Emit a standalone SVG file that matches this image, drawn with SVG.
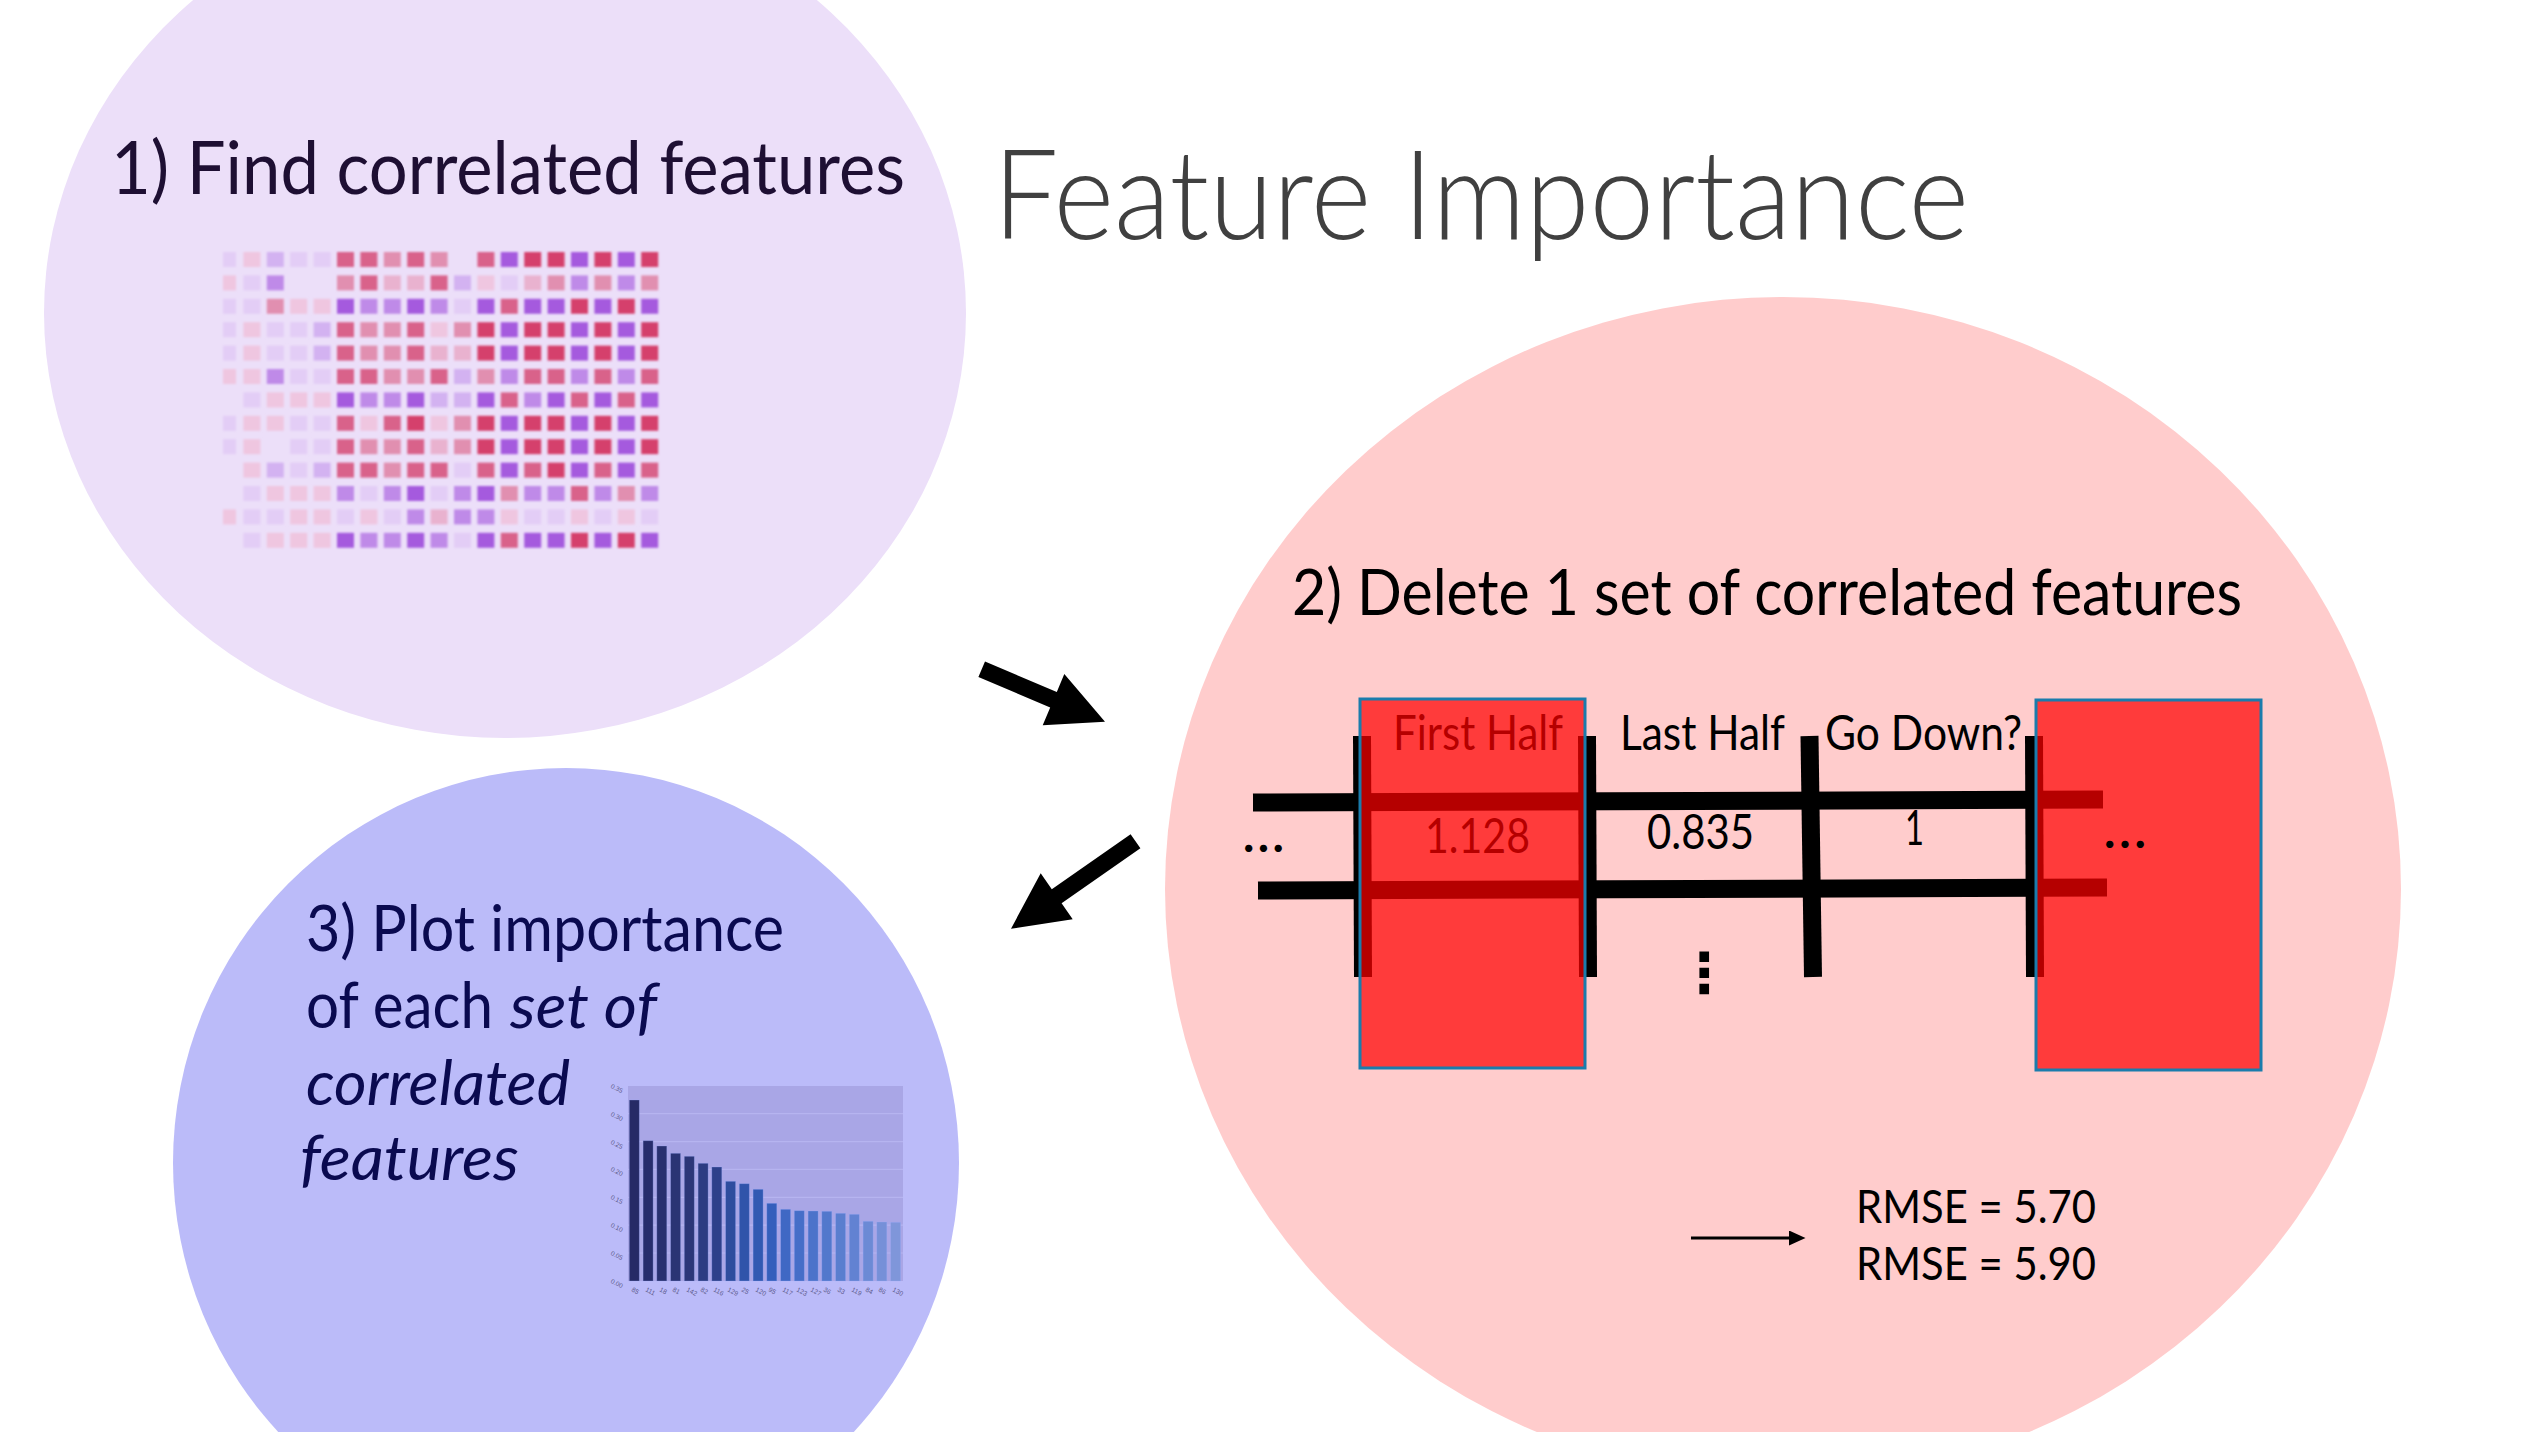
<svg xmlns="http://www.w3.org/2000/svg" width="2542" height="1432" viewBox="0 0 2542 1432">
<style>
.t{font-family:Lato,"Open Sans","Liberation Sans",sans-serif}
.a{fill:#d53f6c}.b{fill:#d9628a}.c{fill:#e18fb0}.d{fill:#e9b2cf}.e{fill:#efc6e0}
.p{fill:#a55ade}.q{fill:#bf8ae8}.r{fill:#d3b2f1}.s{fill:#e3cdf6}
.tick{font-family:"Liberation Sans",sans-serif;font-size:6.5px;fill:#5c5a8c}
.grid{stroke:#b6b4f0;stroke-width:1.2}
.tl{stroke:#000;stroke-width:18;fill:none}
.box{fill:#ff0000;fill-opacity:0.71;stroke:#1b7cac;stroke-width:3}
.cell{font-size:48px;fill:#000}
</style>
<defs>
<filter id="soft" x="-5%" y="-5%" width="110%" height="110%"><feGaussianBlur stdDeviation="1.3"/></filter>
<marker id="ah" markerWidth="5.5" markerHeight="5" refX="1" refY="2.5" orient="auto" markerUnits="strokeWidth"><path d="M0,0 L5.5,2.5 L0,5 z" fill="#000"/></marker>
</defs>
<rect width="2542" height="1432" fill="#ffffff"/>

<g id="title"><text class="t" x="993" y="239" font-size="124" font-weight="300" fill="#404040" textLength="976" lengthAdjust="spacingAndGlyphs">Feature Importance</text></g>

<g id="node-find">
<ellipse cx="505" cy="313" rx="461" ry="425" fill="#ecdff9"/>
<text class="t" x="111" y="194" font-size="73" fill="#1e0f33" textLength="794" lengthAdjust="spacingAndGlyphs">1) Find correlated features</text>
<g id="heatmap" filter="url(#soft)">
<g transform="translate(220,252)"><rect x="3" width="13" height="15" class="s"/><rect x="23.4" width="17" height="15" class="e"/><rect x="46.8" width="17" height="15" class="r"/><rect x="70.2" width="17" height="15" class="s"/><rect x="93.6" width="17" height="15" class="s"/><rect x="117" width="17" height="15" class="b"/><rect x="140.4" width="17" height="15" class="b"/><rect x="163.8" width="17" height="15" class="c"/><rect x="187.2" width="17" height="15" class="b"/><rect x="210.6" width="17" height="15" class="c"/><rect x="257.4" width="17" height="15" class="b"/><rect x="280.8" width="17" height="15" class="p"/><rect x="304.2" width="17" height="15" class="a"/><rect x="327.6" width="17" height="15" class="a"/><rect x="351" width="17" height="15" class="p"/><rect x="374.4" width="17" height="15" class="a"/><rect x="397.8" width="17" height="15" class="p"/><rect x="421.2" width="17" height="15" class="a"/></g>
<g transform="translate(220,275.4)"><rect x="3" width="13" height="15" class="e"/><rect x="23.4" width="17" height="15" class="s"/><rect x="46.8" width="17" height="15" class="q"/><rect x="117" width="17" height="15" class="c"/><rect x="140.4" width="17" height="15" class="b"/><rect x="163.8" width="17" height="15" class="d"/><rect x="187.2" width="17" height="15" class="d"/><rect x="210.6" width="17" height="15" class="b"/><rect x="234" width="17" height="15" class="r"/><rect x="257.4" width="17" height="15" class="e"/><rect x="280.8" width="17" height="15" class="s"/><rect x="304.2" width="17" height="15" class="d"/><rect x="327.6" width="17" height="15" class="c"/><rect x="351" width="17" height="15" class="q"/><rect x="374.4" width="17" height="15" class="c"/><rect x="397.8" width="17" height="15" class="q"/><rect x="421.2" width="17" height="15" class="c"/></g>
<g transform="translate(220,298.8)"><rect x="3" width="13" height="15" class="s"/><rect x="23.4" width="17" height="15" class="s"/><rect x="46.8" width="17" height="15" class="c"/><rect x="70.2" width="17" height="15" class="e"/><rect x="93.6" width="17" height="15" class="e"/><rect x="117" width="17" height="15" class="p"/><rect x="140.4" width="17" height="15" class="q"/><rect x="163.8" width="17" height="15" class="q"/><rect x="187.2" width="17" height="15" class="p"/><rect x="210.6" width="17" height="15" class="q"/><rect x="234" width="17" height="15" class="s"/><rect x="257.4" width="17" height="15" class="p"/><rect x="280.8" width="17" height="15" class="b"/><rect x="304.2" width="17" height="15" class="p"/><rect x="327.6" width="17" height="15" class="p"/><rect x="351" width="17" height="15" class="a"/><rect x="374.4" width="17" height="15" class="p"/><rect x="397.8" width="17" height="15" class="a"/><rect x="421.2" width="17" height="15" class="p"/></g>
<g transform="translate(220,322.2)"><rect x="3" width="13" height="15" class="s"/><rect x="23.4" width="17" height="15" class="e"/><rect x="46.8" width="17" height="15" class="s"/><rect x="70.2" width="17" height="15" class="s"/><rect x="93.6" width="17" height="15" class="r"/><rect x="117" width="17" height="15" class="b"/><rect x="140.4" width="17" height="15" class="c"/><rect x="163.8" width="17" height="15" class="c"/><rect x="187.2" width="17" height="15" class="b"/><rect x="210.6" width="17" height="15" class="e"/><rect x="234" width="17" height="15" class="c"/><rect x="257.4" width="17" height="15" class="a"/><rect x="280.8" width="17" height="15" class="p"/><rect x="304.2" width="17" height="15" class="a"/><rect x="327.6" width="17" height="15" class="a"/><rect x="351" width="17" height="15" class="p"/><rect x="374.4" width="17" height="15" class="a"/><rect x="397.8" width="17" height="15" class="p"/><rect x="421.2" width="17" height="15" class="a"/></g>
<g transform="translate(220,345.6)"><rect x="3" width="13" height="15" class="s"/><rect x="23.4" width="17" height="15" class="e"/><rect x="46.8" width="17" height="15" class="s"/><rect x="70.2" width="17" height="15" class="s"/><rect x="93.6" width="17" height="15" class="r"/><rect x="117" width="17" height="15" class="b"/><rect x="140.4" width="17" height="15" class="c"/><rect x="163.8" width="17" height="15" class="c"/><rect x="187.2" width="17" height="15" class="b"/><rect x="210.6" width="17" height="15" class="d"/><rect x="234" width="17" height="15" class="d"/><rect x="257.4" width="17" height="15" class="a"/><rect x="280.8" width="17" height="15" class="p"/><rect x="304.2" width="17" height="15" class="a"/><rect x="327.6" width="17" height="15" class="a"/><rect x="351" width="17" height="15" class="p"/><rect x="374.4" width="17" height="15" class="a"/><rect x="397.8" width="17" height="15" class="p"/><rect x="421.2" width="17" height="15" class="a"/></g>
<g transform="translate(220,369)"><rect x="3" width="13" height="15" class="e"/><rect x="23.4" width="17" height="15" class="e"/><rect x="46.8" width="17" height="15" class="q"/><rect x="70.2" width="17" height="15" class="s"/><rect x="93.6" width="17" height="15" class="s"/><rect x="117" width="17" height="15" class="b"/><rect x="140.4" width="17" height="15" class="b"/><rect x="163.8" width="17" height="15" class="c"/><rect x="187.2" width="17" height="15" class="c"/><rect x="210.6" width="17" height="15" class="b"/><rect x="234" width="17" height="15" class="r"/><rect x="257.4" width="17" height="15" class="c"/><rect x="280.8" width="17" height="15" class="q"/><rect x="304.2" width="17" height="15" class="b"/><rect x="327.6" width="17" height="15" class="b"/><rect x="351" width="17" height="15" class="q"/><rect x="374.4" width="17" height="15" class="b"/><rect x="397.8" width="17" height="15" class="q"/><rect x="421.2" width="17" height="15" class="b"/></g>
<g transform="translate(220,392.4)"><rect x="23.4" width="17" height="15" class="s"/><rect x="46.8" width="17" height="15" class="e"/><rect x="70.2" width="17" height="15" class="e"/><rect x="93.6" width="17" height="15" class="e"/><rect x="117" width="17" height="15" class="p"/><rect x="140.4" width="17" height="15" class="q"/><rect x="163.8" width="17" height="15" class="q"/><rect x="187.2" width="17" height="15" class="p"/><rect x="210.6" width="17" height="15" class="r"/><rect x="234" width="17" height="15" class="r"/><rect x="257.4" width="17" height="15" class="p"/><rect x="280.8" width="17" height="15" class="b"/><rect x="304.2" width="17" height="15" class="q"/><rect x="327.6" width="17" height="15" class="p"/><rect x="351" width="17" height="15" class="b"/><rect x="374.4" width="17" height="15" class="p"/><rect x="397.8" width="17" height="15" class="b"/><rect x="421.2" width="17" height="15" class="p"/></g>
<g transform="translate(220,415.8)"><rect x="3" width="13" height="15" class="s"/><rect x="23.4" width="17" height="15" class="e"/><rect x="46.8" width="17" height="15" class="e"/><rect x="70.2" width="17" height="15" class="s"/><rect x="93.6" width="17" height="15" class="s"/><rect x="117" width="17" height="15" class="b"/><rect x="140.4" width="17" height="15" class="e"/><rect x="163.8" width="17" height="15" class="b"/><rect x="187.2" width="17" height="15" class="a"/><rect x="210.6" width="17" height="15" class="e"/><rect x="234" width="17" height="15" class="c"/><rect x="257.4" width="17" height="15" class="a"/><rect x="280.8" width="17" height="15" class="p"/><rect x="304.2" width="17" height="15" class="a"/><rect x="327.6" width="17" height="15" class="a"/><rect x="351" width="17" height="15" class="p"/><rect x="374.4" width="17" height="15" class="a"/><rect x="397.8" width="17" height="15" class="p"/><rect x="421.2" width="17" height="15" class="a"/></g>
<g transform="translate(220,439.2)"><rect x="3" width="13" height="15" class="s"/><rect x="23.4" width="17" height="15" class="e"/><rect x="70.2" width="17" height="15" class="s"/><rect x="93.6" width="17" height="15" class="s"/><rect x="117" width="17" height="15" class="b"/><rect x="140.4" width="17" height="15" class="c"/><rect x="163.8" width="17" height="15" class="c"/><rect x="187.2" width="17" height="15" class="b"/><rect x="210.6" width="17" height="15" class="d"/><rect x="234" width="17" height="15" class="c"/><rect x="257.4" width="17" height="15" class="a"/><rect x="280.8" width="17" height="15" class="p"/><rect x="304.2" width="17" height="15" class="a"/><rect x="327.6" width="17" height="15" class="a"/><rect x="351" width="17" height="15" class="p"/><rect x="374.4" width="17" height="15" class="a"/><rect x="397.8" width="17" height="15" class="p"/><rect x="421.2" width="17" height="15" class="a"/></g>
<g transform="translate(220,462.6)"><rect x="23.4" width="17" height="15" class="e"/><rect x="46.8" width="17" height="15" class="r"/><rect x="70.2" width="17" height="15" class="s"/><rect x="93.6" width="17" height="15" class="r"/><rect x="117" width="17" height="15" class="b"/><rect x="140.4" width="17" height="15" class="b"/><rect x="163.8" width="17" height="15" class="c"/><rect x="187.2" width="17" height="15" class="b"/><rect x="210.6" width="17" height="15" class="b"/><rect x="234" width="17" height="15" class="s"/><rect x="257.4" width="17" height="15" class="b"/><rect x="280.8" width="17" height="15" class="p"/><rect x="304.2" width="17" height="15" class="b"/><rect x="327.6" width="17" height="15" class="a"/><rect x="351" width="17" height="15" class="p"/><rect x="374.4" width="17" height="15" class="b"/><rect x="397.8" width="17" height="15" class="p"/><rect x="421.2" width="17" height="15" class="b"/></g>
<g transform="translate(220,486)"><rect x="23.4" width="17" height="15" class="s"/><rect x="46.8" width="17" height="15" class="e"/><rect x="70.2" width="17" height="15" class="e"/><rect x="93.6" width="17" height="15" class="e"/><rect x="117" width="17" height="15" class="q"/><rect x="140.4" width="17" height="15" class="s"/><rect x="163.8" width="17" height="15" class="q"/><rect x="187.2" width="17" height="15" class="p"/><rect x="210.6" width="17" height="15" class="s"/><rect x="234" width="17" height="15" class="q"/><rect x="257.4" width="17" height="15" class="p"/><rect x="280.8" width="17" height="15" class="c"/><rect x="304.2" width="17" height="15" class="q"/><rect x="327.6" width="17" height="15" class="q"/><rect x="351" width="17" height="15" class="b"/><rect x="374.4" width="17" height="15" class="q"/><rect x="397.8" width="17" height="15" class="c"/><rect x="421.2" width="17" height="15" class="q"/></g>
<g transform="translate(220,509.4)"><rect x="3" width="13" height="15" class="e"/><rect x="23.4" width="17" height="15" class="s"/><rect x="46.8" width="17" height="15" class="s"/><rect x="70.2" width="17" height="15" class="e"/><rect x="93.6" width="17" height="15" class="e"/><rect x="117" width="17" height="15" class="s"/><rect x="140.4" width="17" height="15" class="e"/><rect x="163.8" width="17" height="15" class="s"/><rect x="187.2" width="17" height="15" class="q"/><rect x="210.6" width="17" height="15" class="d"/><rect x="234" width="17" height="15" class="q"/><rect x="257.4" width="17" height="15" class="q"/><rect x="280.8" width="17" height="15" class="e"/><rect x="304.2" width="17" height="15" class="s"/><rect x="327.6" width="17" height="15" class="s"/><rect x="351" width="17" height="15" class="e"/><rect x="374.4" width="17" height="15" class="s"/><rect x="397.8" width="17" height="15" class="e"/><rect x="421.2" width="17" height="15" class="s"/></g>
<g transform="translate(220,532.8)"><rect x="23.4" width="17" height="15" class="s"/><rect x="46.8" width="17" height="15" class="e"/><rect x="70.2" width="17" height="15" class="e"/><rect x="93.6" width="17" height="15" class="e"/><rect x="117" width="17" height="15" class="p"/><rect x="140.4" width="17" height="15" class="q"/><rect x="163.8" width="17" height="15" class="q"/><rect x="187.2" width="17" height="15" class="p"/><rect x="210.6" width="17" height="15" class="q"/><rect x="234" width="17" height="15" class="s"/><rect x="257.4" width="17" height="15" class="p"/><rect x="280.8" width="17" height="15" class="b"/><rect x="304.2" width="17" height="15" class="p"/><rect x="327.6" width="17" height="15" class="p"/><rect x="351" width="17" height="15" class="a"/><rect x="374.4" width="17" height="15" class="p"/><rect x="397.8" width="17" height="15" class="a"/><rect x="421.2" width="17" height="15" class="p"/></g>
</g>
</g>

<g id="node-delete">
<ellipse cx="1783" cy="889" rx="618" ry="592" fill="#ffcccc"/>
<text class="t" x="1292" y="615" font-size="64" fill="#000" textLength="950" lengthAdjust="spacingAndGlyphs">2) Delete 1 set of correlated features</text>
<g id="table">
<line class="tl" x1="1253" y1="802.5" x2="2103" y2="799.5"/>
<line class="tl" x1="1258" y1="890.5" x2="2107" y2="887.5"/>
<line class="tl" x1="1362" y1="736" x2="1363" y2="977"/>
<line class="tl" x1="1587" y1="736" x2="1588" y2="977"/>
<line class="tl" x1="1809.5" y1="736" x2="1813" y2="977"/>
<line class="tl" x1="2034" y1="736" x2="2035" y2="977"/>
<text class="t cell" x="1393" y="750" textLength="170" lengthAdjust="spacingAndGlyphs">First Half</text>
<text class="t cell" x="1620" y="750" textLength="165" lengthAdjust="spacingAndGlyphs">Last Half</text>
<text class="t cell" x="1825" y="750" textLength="197" lengthAdjust="spacingAndGlyphs">Go Down?</text>
<text class="t cell" x="1425" y="853" textLength="105" lengthAdjust="spacingAndGlyphs">1.128</text>
<text class="t cell" x="1647" y="849" textLength="107" lengthAdjust="spacingAndGlyphs">0.835</text>
<text class="t cell" x="1905" y="845" textLength="19" lengthAdjust="spacingAndGlyphs">1</text>
<text class="t cell" x="1243" y="852" font-weight="bold" textLength="41" lengthAdjust="spacing">...</text>
<rect class="box" x="1360" y="699" width="225" height="369"/>
<rect class="box" x="2036" y="700" width="225" height="370"/>
<text class="t cell" x="2104" y="848" font-weight="bold" textLength="42" lengthAdjust="spacing">...</text>
<text x="1704" y="992" font-family="DejaVu Sans,sans-serif" font-size="55" font-weight="bold" text-anchor="middle" fill="#000">⋮</text>
</g>
<text class="t" x="1856" y="1223" font-size="47" fill="#000" textLength="240" lengthAdjust="spacingAndGlyphs">RMSE = 5.70</text>
<text class="t" x="1856" y="1280" font-size="47" fill="#000" textLength="240" lengthAdjust="spacingAndGlyphs">RMSE = 5.90</text>
</g>

<g id="node-plot">
<ellipse cx="566" cy="1163" rx="393" ry="395" fill="#bbbbf9"/>
<g class="t" font-size="63" fill="#0a0a50">
<text x="306" y="951" textLength="478" lengthAdjust="spacingAndGlyphs">3) Plot importance</text>
<text x="306" y="1028" textLength="187" lengthAdjust="spacingAndGlyphs">of each</text>
<text x="510" y="1028" font-style="italic" textLength="147" lengthAdjust="spacingAndGlyphs">set of</text>
<text x="306" y="1105" font-style="italic" textLength="264" lengthAdjust="spacingAndGlyphs">correlated</text>
<text x="300" y="1180" font-style="italic" textLength="219" lengthAdjust="spacingAndGlyphs">features</text>
</g>
<g id="chart">
<rect x="628" y="1086" width="275" height="195" fill="#a9a6e6"/>
<line class="grid" x1="628" y1="1113.7" x2="903" y2="1113.7"/>
<line class="grid" x1="628" y1="1141.6" x2="903" y2="1141.6"/>
<line class="grid" x1="628" y1="1169.4" x2="903" y2="1169.4"/>
<line class="grid" x1="628" y1="1197.3" x2="903" y2="1197.3"/>
<line class="grid" x1="628" y1="1225.1" x2="903" y2="1225.1"/>
<line class="grid" x1="628" y1="1253" x2="903" y2="1253"/>
<g stroke-opacity="0.35" stroke="#9fb0ff" stroke-width="0.8">
<rect x="629.3" y="1100" width="10" height="181" fill="#262a66"/>
<rect x="643.1" y="1140.7" width="10" height="140.3" fill="#272d6c"/>
<rect x="656.8" y="1146" width="10" height="135" fill="#28306f"/>
<rect x="670.6" y="1153.3" width="10" height="127.7" fill="#2a3474"/>
<rect x="684.3" y="1156.3" width="10" height="124.7" fill="#2b3678"/>
<rect x="698.1" y="1163.3" width="10" height="117.7" fill="#2c3c82"/>
<rect x="711.8" y="1167" width="10" height="114" fill="#2d408a"/>
<rect x="725.6" y="1181.3" width="10" height="99.7" fill="#2e4d9e"/>
<rect x="739.3" y="1183.7" width="10" height="97.3" fill="#3054aa"/>
<rect x="753.1" y="1189.3" width="10" height="91.7" fill="#3159b2"/>
<rect x="766.8" y="1203.3" width="10" height="77.7" fill="#345fbc"/>
<rect x="780.6" y="1209.3" width="10" height="71.7" fill="#3f68c4"/>
<rect x="794.3" y="1210.7" width="10" height="70.3" fill="#466ec8"/>
<rect x="808.1" y="1211" width="10" height="70" fill="#4c73ca"/>
<rect x="821.8" y="1211.3" width="10" height="69.7" fill="#5278cc"/>
<rect x="835.6" y="1213.3" width="10" height="67.7" fill="#5a7ecf"/>
<rect x="849.3" y="1214.3" width="10" height="66.7" fill="#6282d2"/>
<rect x="863.1" y="1221.3" width="10" height="59.7" fill="#6c8ad5"/>
<rect x="876.8" y="1222" width="10" height="59" fill="#7690d8"/>
<rect x="890.6" y="1222.3" width="10" height="58.7" fill="#7f96da"/>
</g>
<g class="tick">
<text x="611" y="1088" transform="rotate(25 611 1086)">0.35</text>
<text x="611" y="1116" transform="rotate(25 611 1114)">0.30</text>
<text x="611" y="1144" transform="rotate(25 611 1142)">0.25</text>
<text x="611" y="1171" transform="rotate(25 611 1169)">0.20</text>
<text x="611" y="1199" transform="rotate(25 611 1197)">0.15</text>
<text x="611" y="1227" transform="rotate(25 611 1225)">0.10</text>
<text x="611" y="1255" transform="rotate(25 611 1253)">0.05</text>
<text x="611" y="1283" transform="rotate(25 611 1281)">0.00</text>
<text x="631" y="1291" transform="rotate(28 631 1291)">85</text>
<text x="645" y="1291" transform="rotate(28 645 1291)">111</text>
<text x="659" y="1291" transform="rotate(28 659 1291)">18</text>
<text x="672" y="1291" transform="rotate(28 672 1291)">81</text>
<text x="686" y="1291" transform="rotate(28 686 1291)">142</text>
<text x="700" y="1291" transform="rotate(28 700 1291)">82</text>
<text x="713" y="1291" transform="rotate(28 713 1291)">116</text>
<text x="727" y="1291" transform="rotate(28 727 1291)">129</text>
<text x="741" y="1291" transform="rotate(28 741 1291)">25</text>
<text x="755" y="1291" transform="rotate(28 755 1291)">120</text>
<text x="768" y="1291" transform="rotate(28 768 1291)">95</text>
<text x="782" y="1291" transform="rotate(28 782 1291)">117</text>
<text x="796" y="1291" transform="rotate(28 796 1291)">123</text>
<text x="810" y="1291" transform="rotate(28 810 1291)">127</text>
<text x="823" y="1291" transform="rotate(28 823 1291)">36</text>
<text x="837" y="1291" transform="rotate(28 837 1291)">33</text>
<text x="851" y="1291" transform="rotate(28 851 1291)">119</text>
<text x="865" y="1291" transform="rotate(28 865 1291)">84</text>
<text x="878" y="1291" transform="rotate(28 878 1291)">86</text>
<text x="892" y="1291" transform="rotate(28 892 1291)">130</text>
</g>
</g>
</g>

<g id="connectors">
<polygon points="985,661.5 1056.8,691.9 1064.3,674 1105,721.7 1042.7,725.3 1050.2,707.5 978.4,677.1" fill="#000"/>
<polygon points="1130.6,834.2 1051.8,889.3 1040.7,873.3 1011,928.7 1072.7,919.3 1061.6,903.3 1140.4,848.2" fill="#000"/>
<line x1="1691" y1="1238" x2="1792" y2="1238" stroke="#000" stroke-width="3" marker-end="url(#ah)"/>
</g>
</svg>
